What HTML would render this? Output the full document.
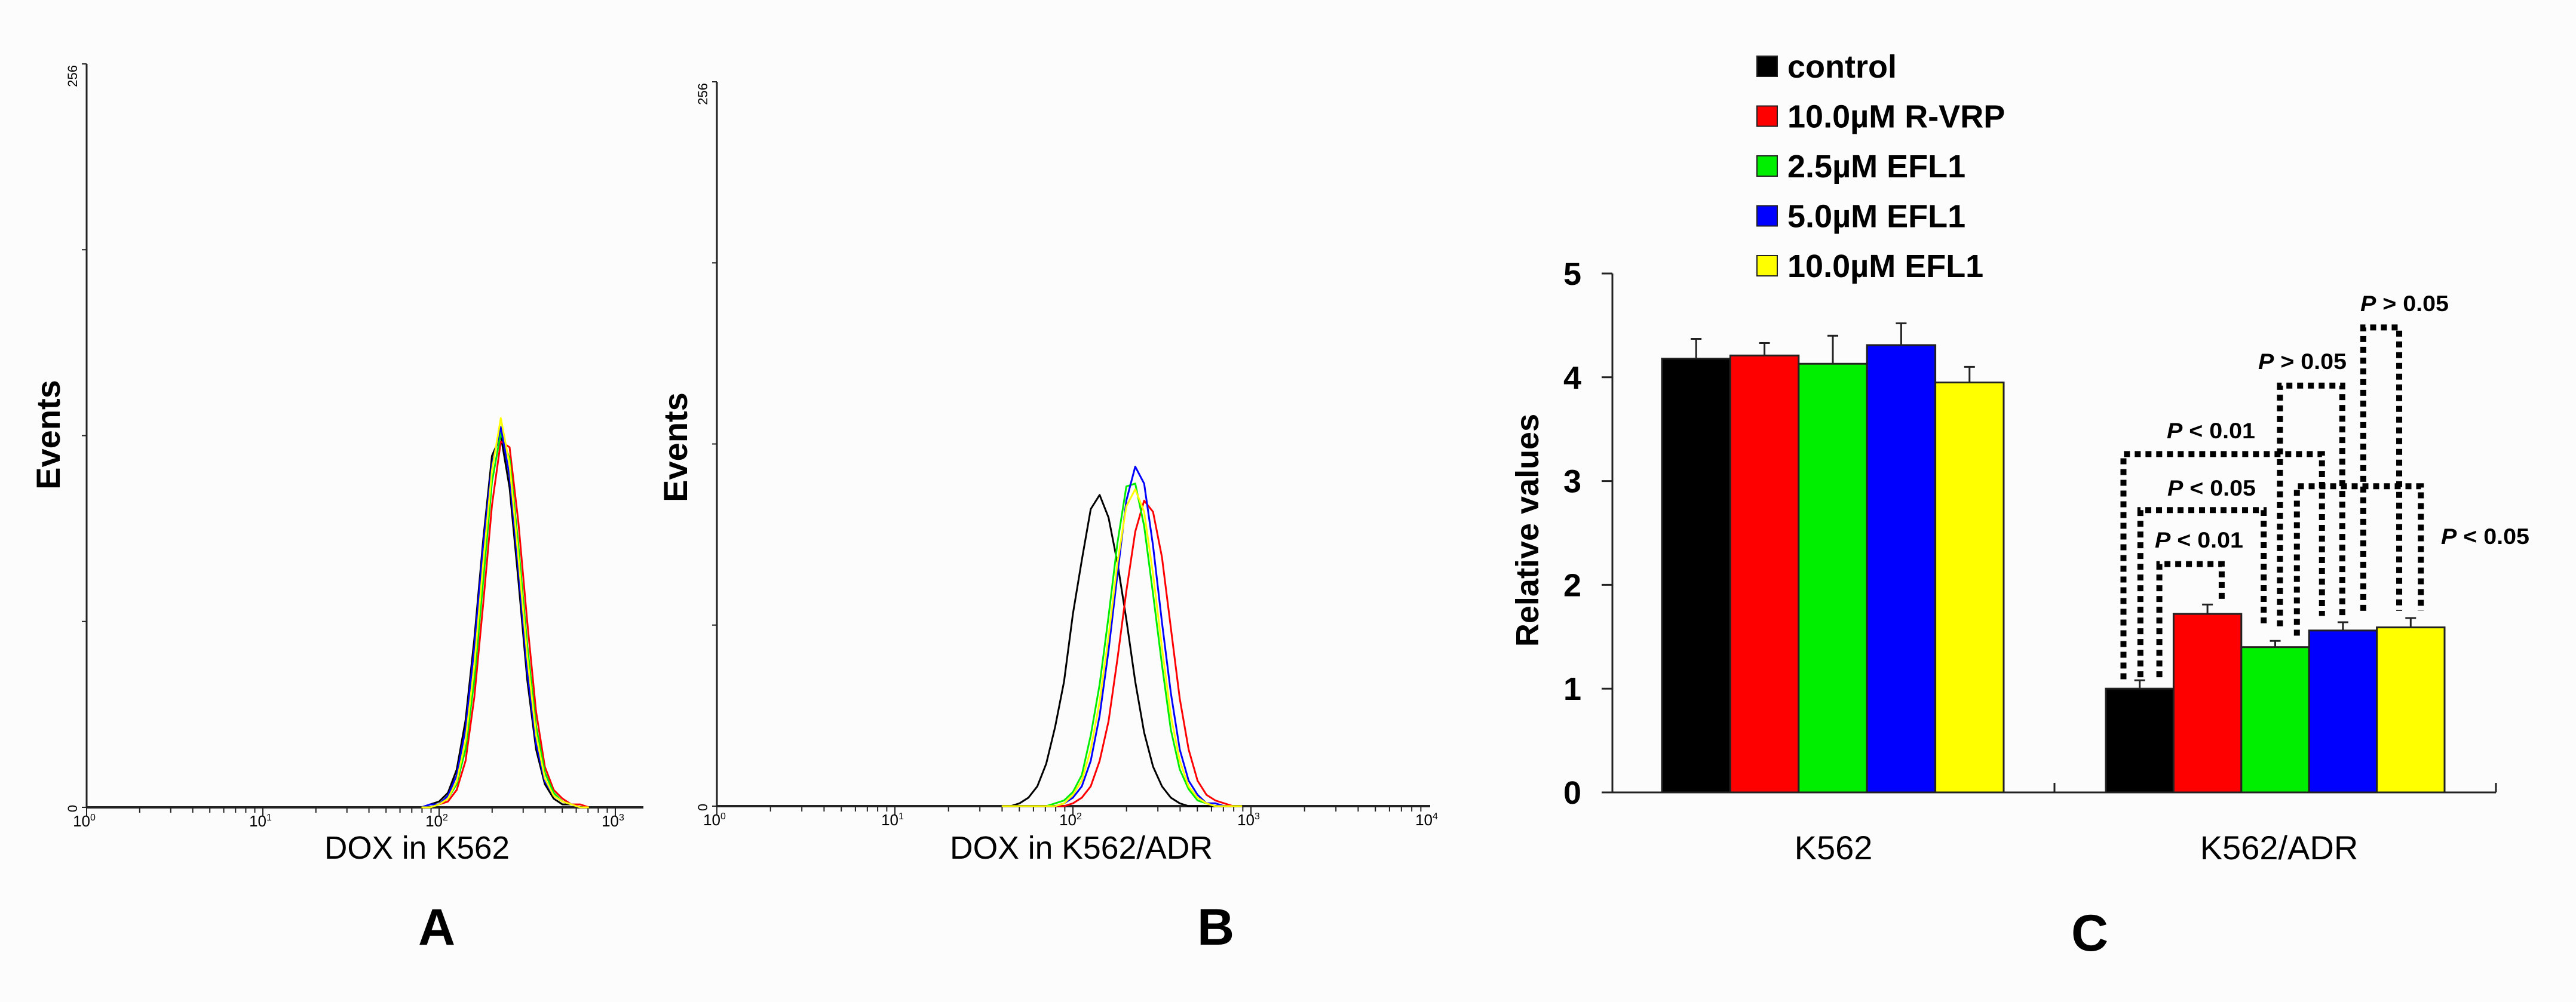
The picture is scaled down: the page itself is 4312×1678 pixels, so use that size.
<!DOCTYPE html>
<html><head><meta charset="utf-8"><style>
html,body{margin:0;padding:0;background:#fcfcfc;}
svg{display:block;}
text{font-family:"Liberation Sans",sans-serif;}
</style></head><body>
<svg id="fig" width="4312" height="1678" viewBox="0 0 4312 1678" xmlns="http://www.w3.org/2000/svg">
<rect width="4312" height="1678" fill="#fcfcfc"/>
<g id="gA"></g>
<g id="gB"></g>
<g id="gC"></g>
</svg>
<script>
// ---------- Histogram data ----------
const binsA = [1.90,1.95,2.00,2.05,2.10,2.15,2.20,2.25,2.30,2.35,2.40,2.45,2.50,2.55,2.60,2.65,2.70,2.75,2.80,2.85];
const histA_control = [0,1,2,5,13,30,58,92,121,128,110,78,44,20,8,3,1,1,0,0];
const histA_rvrp    = [0,0,1,2,6,16,38,70,104,126,124,98,64,33,14,6,3,1,1,0];
const histA_efl25   = [0,0,1,3,8,20,44,78,112,129,120,90,56,28,12,5,2,1,0,0];
const histA_efl50   = [0,1,1,4,11,27,55,90,118,131,114,82,47,22,9,4,2,1,0,0];
const histA_efl100  = [0,0,1,3,9,23,49,84,116,134,118,86,52,25,10,4,2,1,0,0];

const binsB = [1.60,1.65,1.70,1.75,1.80,1.85,1.90,1.95,2.00,2.05,2.10,2.15,2.20,2.25,2.30,2.35,2.40,2.45,2.50,2.55,2.60,2.65,2.70,2.75,2.80,2.85,2.90,2.95];
const histB_control = [0,0,1,3,7,15,28,44,68,87,105,110,102,86,66,44,26,14,7,3,1,0,0,0,0,0,0,0];
const histB_rvrp    = [0,0,0,0,0,0,0,0,1,3,7,16,30,52,76,97,108,104,88,63,38,20,9,4,2,1,0,0];
const histB_efl25   = [0,0,0,0,0,0,1,2,5,11,25,43,67,93,113,114,99,75,50,27,13,6,2,1,0,0,0,0];
const histB_efl50   = [0,0,0,0,0,0,0,1,3,7,16,32,55,82,108,120,114,92,65,40,20,9,4,1,1,0,0,0];
const histB_efl100  = [0,0,0,0,0,0,0,1,4,9,20,37,60,86,106,112,104,82,56,32,16,7,3,1,0,0,0,0];

// ---------- Bar chart data ----------
const categories = ["K562","K562/ADR"];
const seriesNames = ["control","10.0\u00b5M R-VRP","2.5\u00b5M EFL1","5.0\u00b5M EFL1","10.0\u00b5M EFL1"];
const valuesK562 = [4.18,4.21,4.13,4.31,3.95];
const errorsK562 = [0.19,0.12,0.27,0.21,0.15];
const valuesADR  = [1.00,1.72,1.40,1.56,1.59];
const errorsADR  = [0.08,0.09,0.06,0.08,0.09];
const yTicks = [0,1,2,3,4,5];
// significance brackets: [leftBarPos, rightBarPos, topValue, leftBottomValue, rightBottomValue]
const sigBrackets = [[0.79,1.71,2.20,1.11,1.83],[0.51,2.33,2.72,1.11,1.63],[0.26,3.19,3.26,1.09,1.70],[2.57,3.49,3.92,1.60,1.70],[3.80,4.33,4.48,1.75,1.75],[2.82,4.65,2.95,1.51,1.75]];
const sigLabels = ["P < 0.01","P < 0.05","P < 0.01","P > 0.05","P > 0.05","P < 0.05"];

const colors = ["#000000","#ff0000","#00ee00","#0000ff","#ffff00"];
const NS="http://www.w3.org/2000/svg";
function mk(parent,tag,attrs,txt){const e=document.createElementNS(NS,tag);for(const k in attrs)e.setAttribute(k,attrs[k]);if(txt!==undefined)e.textContent=txt;parent.appendChild(e);return e;}

// ---------- histogram panel ----------
function histPanel(g, cfg, bins, series, label, letter){
  const xs = l => cfg.x0 + l*cfg.dec;
  const ys = c => cfg.yb - c/256*(cfg.yb-cfg.yt);
  let e;
  e=mk(g,'line',{x1:cfg.x0,y1:cfg.yt,x2:cfg.x0,y2:cfg.yb,stroke:'#222','stroke-width':3});
  
  
  e=mk(g,'line',{x1:cfg.x0,y1:cfg.yb,x2:cfg.xe,y2:cfg.yb,stroke:'#222','stroke-width':4});
  
  
  for(let i=0;i<=4;i++){const y=cfg.yt+i*(cfg.yb-cfg.yt)/4;
    e=mk(g,'line',{x1:cfg.x0-8,y1:y,x2:cfg.x0,y2:y,stroke:'#222','stroke-width':2});
    
    }
  e=mk(g,'text',{x:0,y:0,'font-size':22,transform:`translate(${cfg.x0-16},${cfg.yt+2}) rotate(-90)`,'text-anchor':'end'},'256');
  
  
  e=mk(g,'text',{x:0,y:0,'font-size':22,transform:`translate(${cfg.x0-16},${cfg.yb+2}) rotate(-90)`,'text-anchor':'middle'},'0');
  
  
  for(let d=0; d<cfg.ndec; d++){
    for(let m=1;m<=9;m++){const x=xs(d+Math.log10(m)); if(x>cfg.xe) break;
      e=mk(g,'line',{x1:x,y1:cfg.yb,x2:x,y2:cfg.yb+(m===1?14:9),stroke:'#222','stroke-width':2});
      
      }
  }
  for(let d=0; d<=cfg.ndec; d++){const x=xs(d); if(x>cfg.xe+5) break;
    e=mk(g,'text',{x:x-4,y:cfg.yb+32,'font-size':26,'text-anchor':'middle'});
    
    
    e.textContent='10';
    mk(e,'tspan',{dy:-10,'font-size':16},String(d));
  }
  series.forEach((s,i)=>{
    const pts=bins.map((b,j)=>xs(b).toFixed(1)+','+ys(s[j]).toFixed(1)).join(' ');
    e=mk(g,'polyline',{points:pts,fill:'none',stroke:colors[i],'stroke-width':3,'stroke-linejoin':'round'});
    
    
  });
  // redraw black on top lightly
  e=mk(g,'text',{x:0,y:0,'font-size':56,'font-weight':'bold',transform:`translate(${cfg.ex},${cfg.ey}) rotate(-90)`,'text-anchor':'middle'},'Events');
  
  
  e=mk(g,'text',{x:cfg.lx,y:1438,'font-size':54,'text-anchor':'middle',textLength:cfg.lw,lengthAdjust:'spacingAndGlyphs'},label);
  
  
  e=mk(g,'text',{x:cfg.px,y:1582,'font-size':86,'font-weight':'bold','text-anchor':'middle'},letter);
  
  
}
histPanel(document.getElementById('gA'),{x0:145,dec:295,xe:1077,yt:107,yb:1352,ndec:4,ex:100,ey:728,lx:698,lw:310,px:731},
  binsA,[histA_control,histA_rvrp,histA_efl25,histA_efl50,histA_efl100],'DOX in K562','A');
histPanel(document.getElementById('gB'),{x0:1200,dec:298,xe:2394,yt:137,yb:1350,ndec:4,ex:1150,ey:749,lx:1810,lw:440,px:2035},
  binsB,[histB_control,histB_rvrp,histB_efl25,histB_efl50,histB_efl100],'DOX in K562/ADR','B');

// ---------- bar chart ----------
(function(){
  const g=document.getElementById('gC');
  const X0=2699, XE=4178, Y0=1327, YU=173.8;
  const yv=v=>Y0-v*YU;
  const groupStart=[2782,3525], bw=[114.4,113.4];
  let e;
  e=mk(g,'line',{x1:X0,y1:yv(5),x2:X0,y2:Y0,stroke:'#222','stroke-width':3});
  
  
  e=mk(g,'line',{x1:X0,y1:Y0,x2:XE,y2:Y0,stroke:'#222','stroke-width':3});
  
  
  [3439,XE].forEach(x=>{e=mk(g,'line',{x1:x,y1:Y0,x2:x,y2:Y0-16,stroke:'#222','stroke-width':3});
    
    });
  yTicks.forEach(t=>{
    e=mk(g,'line',{x1:X0-18,y1:yv(t),x2:X0,y2:yv(t),stroke:'#222','stroke-width':3});
    
    
    e=mk(g,'text',{x:2632,y:yv(t)+19,'font-size':54,'font-weight':'bold','text-anchor':'middle'},String(t));
    
    
  });
  e=mk(g,'text',{x:0,y:0,'font-size':54,'font-weight':'bold','text-anchor':'middle',transform:'translate(2575,888) rotate(-90)'},'Relative values');
  
  
  const allVals=[valuesK562,valuesADR], allErr=[errorsK562,errorsADR];
  allVals.forEach((vals,gi)=>{
    vals.forEach((v,i)=>{
      const x=groupStart[gi]+i*bw[gi], cx=x+bw[gi]/2, top=v+allErr[gi][i];
      e=mk(g,'line',{x1:cx,y1:yv(v),x2:cx,y2:yv(top),stroke:'#222','stroke-width':3});
      
      
      e=mk(g,'line',{x1:cx-9,y1:yv(top),x2:cx+9,y2:yv(top),stroke:'#222','stroke-width':3});
      
      
      e=mk(g,'rect',{x:x,y:yv(v),width:bw[gi],height:v*YU,fill:colors[i],stroke:'#222','stroke-width':3});
      
      
    });
    e=mk(g,'text',{x:[3069,3815][gi],y:1439,'font-size':56,'text-anchor':'middle'},categories[gi]);
    
    
  });
  // significance brackets
  const bp=p=>groupStart[1]+p*bw[1];
  sigBrackets.forEach((b,i)=>{
    const d=`M${bp(b[0])},${yv(b[3])} L${bp(b[0])},${yv(b[2])} L${bp(b[1])},${yv(b[2])} L${bp(b[1])},${yv(b[4])}`;
    e=mk(g,'path',{d:d,fill:'none',stroke:'#000','stroke-width':10,'stroke-dasharray':'10 8'});
    
    
  });
  const labPos=[[3681,917],[3702,830],[3701,734],[3854,618],[4025,521],[4160,911]];
  sigLabels.forEach((s,i)=>{
    e=mk(g,'text',{x:labPos[i][0],y:labPos[i][1],'font-size':37,'font-weight':'bold','text-anchor':'middle',textLength:148,lengthAdjust:'spacingAndGlyphs'});
    
    
    mk(e,'tspan',{'font-style':'italic'},'P');
    mk(e,'tspan',{},s.slice(1));
  });
  // legend
  seriesNames.forEach((n,i)=>{
    const cy=111+i*83.5;
    e=mk(g,'rect',{x:2941,y:cy-17,width:34,height:34,fill:colors[i],stroke:'#222','stroke-width':2});
    
    
    e=mk(g,'text',{x:2992,y:cy+19,'font-size':54,'font-weight':'bold'},n);
    
    
  });
  e=mk(g,'text',{x:3498,y:1592,'font-size':86,'font-weight':'bold','text-anchor':'middle'},'C');
  
  
})();
</script>
</body></html>
